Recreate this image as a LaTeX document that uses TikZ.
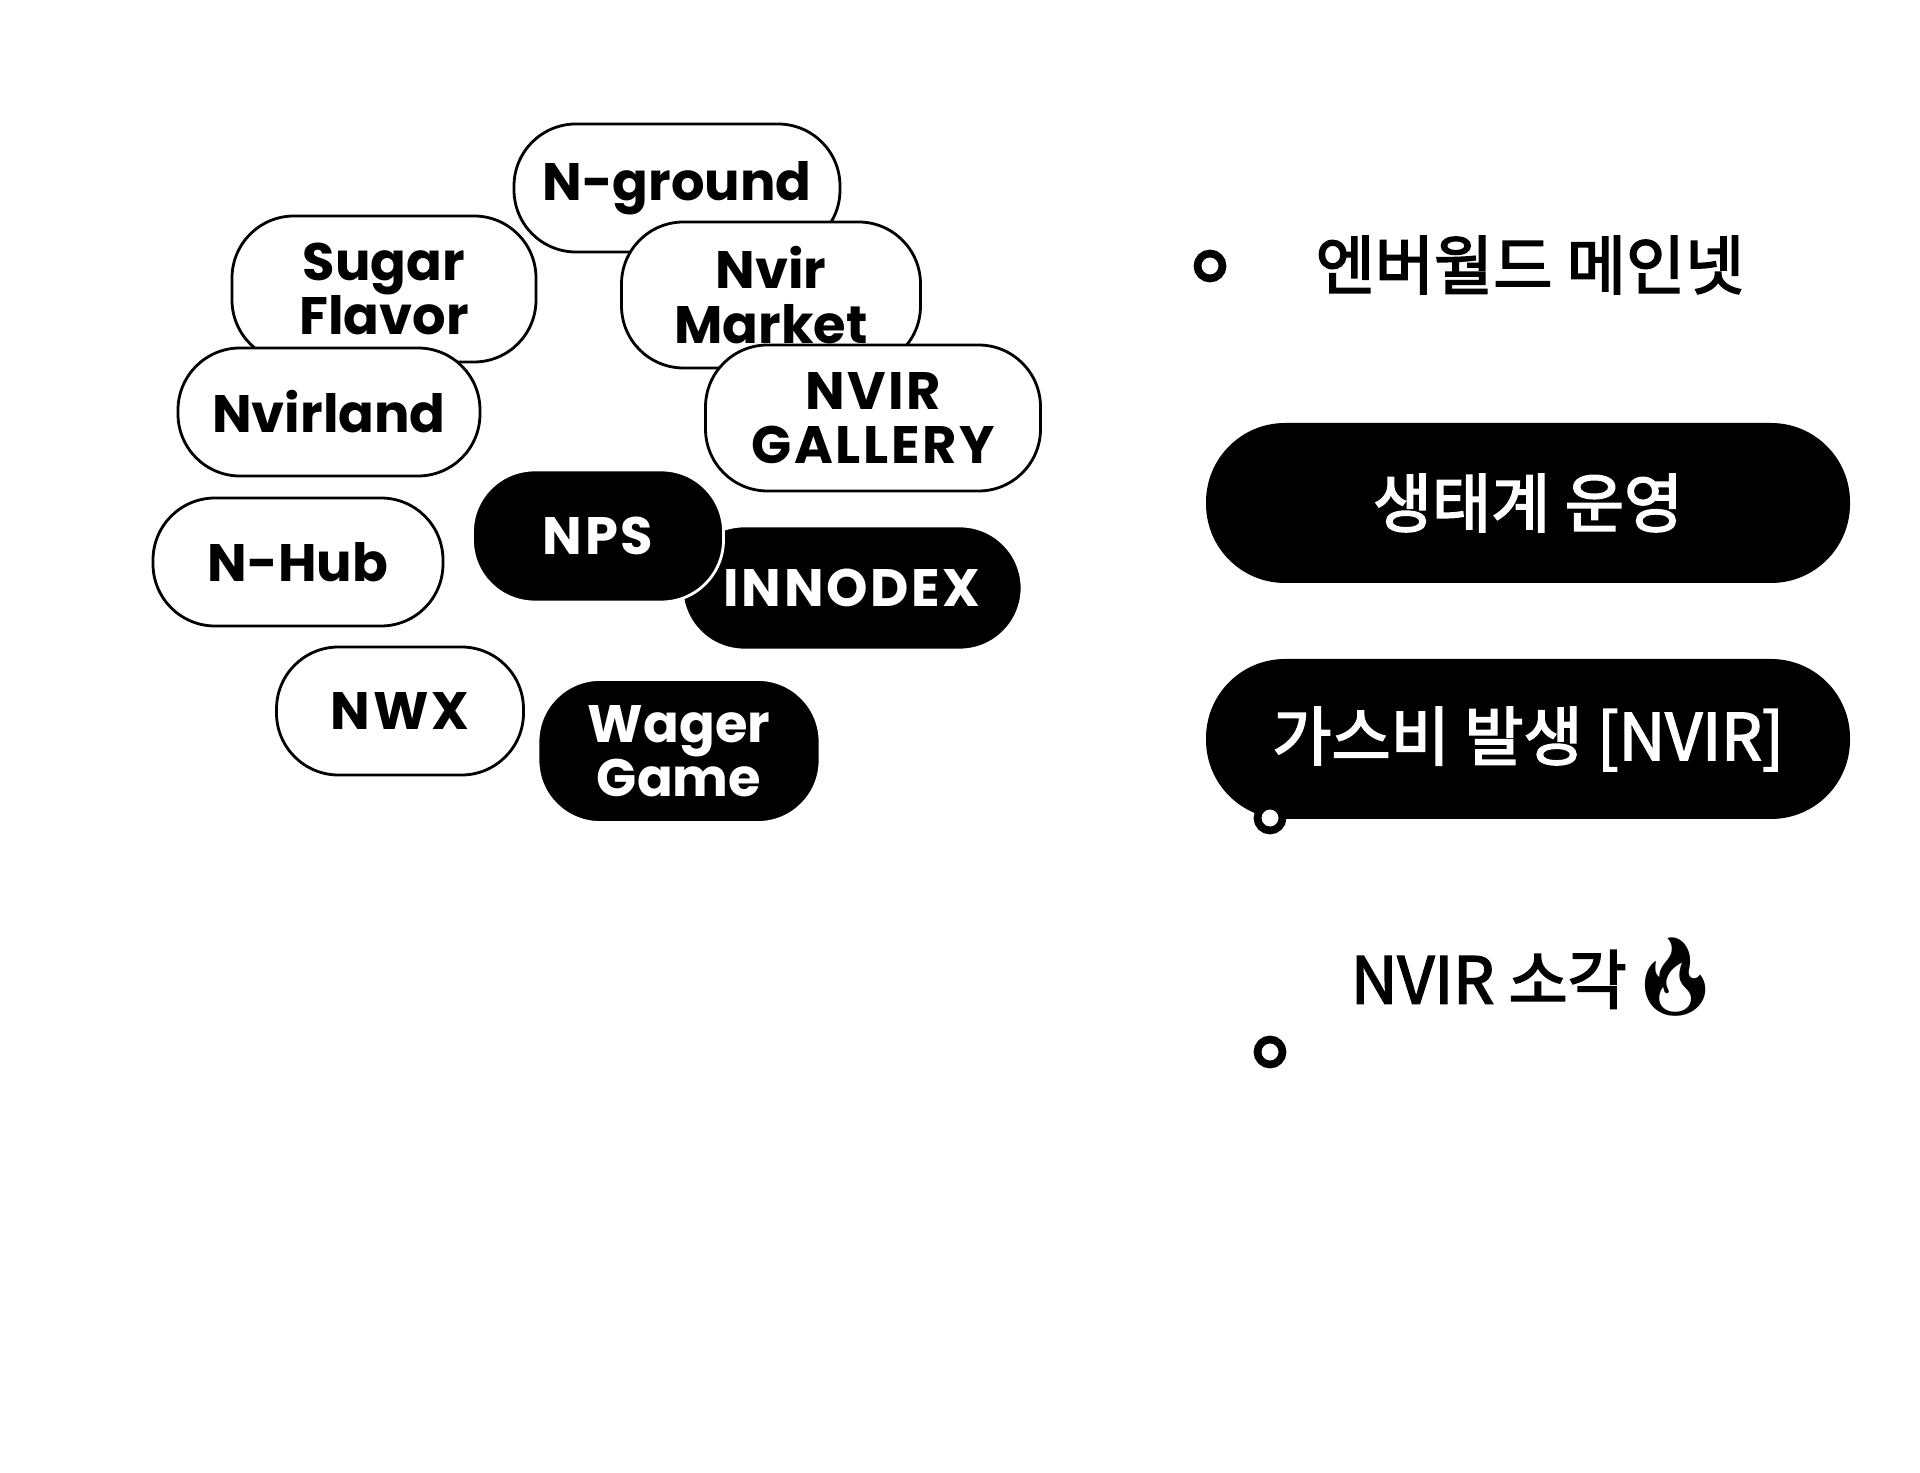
\documentclass[tikz,border=0pt]{standalone}
\usepackage{fontspec}
\newfontfamily\labelfont{Poppins}[BoldFont={Poppins Bold}]
\newfontfamily\krfont{Noto Sans CJK KR}[FakeBold=2.6]
\newfontfamily\emojifont{Noto Emoji}
\tikzset{
  pill/.style={draw, line width=0.8pt, fill=white, rounded corners=0.62cm,
    minimum height=1.28cm, align=center, inner sep=0pt,
    font=\labelfont\bfseries\fontsize{15}{15.5}\selectfont},
  darkpill/.style={pill, fill=black, text=white, draw=white},
  caps/.style={font=\labelfont\bfseries\fontsize{15}{15.5}\selectfont\addfontfeature{LetterSpace=5}},
  bigpill/.style={fill=black, text=white, rounded corners=0.79cm,
    minimum width=6.44cm, minimum height=1.6cm,
    font=\krfont\fontsize{18.3}{22}\selectfont},
  dot/.style={circle, draw, line width=2.2pt, fill=white, minimum size=0.25cm, inner sep=0pt},
  krtext/.style={font=\krfont\fontsize{18.3}{22}\selectfont}
}
\begin{document}
\begin{tikzpicture}
\useasboundingbox (0,0) rectangle (19.2,14.72);
% left cluster
\node[pill, minimum width=3.26cm] (nground) at (6.77,12.84) {N-ground};
\node[pill, minimum width=2.99cm, minimum height=1.46cm] (market) at (7.71,11.77) {Nvir\\Market};
\node[pill, caps, minimum width=3.35cm, minimum height=1.46cm] (gallery) at (8.73,10.54) {NVIR\\GALLERY};
\node[pill, minimum width=3.04cm, minimum height=1.46cm] (sugar) at (3.84,11.83) {Sugar\\Flavor};
\node[pill, minimum width=3.02cm] (nvirland) at (3.29,10.60) {Nvirland};
\node[pill, minimum width=2.90cm] (nhub) at (2.98,9.10) {N-Hub};
\node[darkpill, caps, minimum width=3.40cm, minimum height=1.24cm] (innodex) at (8.52,8.84) {INNODEX};
\node[darkpill, caps, minimum width=2.51cm, minimum height=1.32cm] (nps) at (5.98,9.36) {NPS};
\node[pill, caps, minimum width=2.47cm] (nwx) at (4.00,7.61) {NWX};
\node[darkpill, minimum width=2.82cm, minimum height=1.43cm] (wager) at (6.79,7.21) {Wager\\Game};
% right column
\node[krtext] (mainnet) at (15.30,12.07) {엔버월드 메인넷};
\node[dot] (dota) at (12.10,12.06) {};
\node[bigpill] (eco) at (15.28,9.69) {생태계 운영};
\node[bigpill] (gas) at (15.28,7.33) {가스비 발생 [NVIR]};
\node[dot] (dotb) at (12.70,6.54) {};
\node[krtext] (burn) at (15.38,4.95) {NVIR 소각{\emojifont\fontsize{22}{22}\selectfont 🔥}};
\node[dot] (dotc) at (12.70,4.20) {};
\end{tikzpicture}
\end{document}
